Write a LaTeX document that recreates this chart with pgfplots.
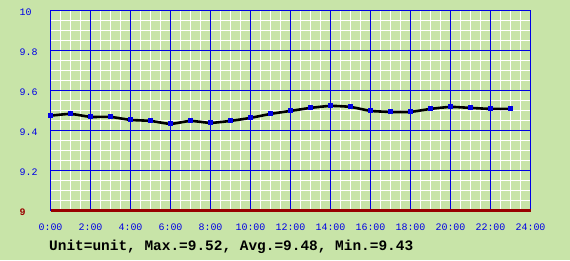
\documentclass[border=0pt]{standalone}
\usepackage{pgfplots}
\pgfplotsset{compat=1.18}
\usepackage{fontspec}
\setmainfont{Liberation Mono}
\definecolor{bg}{RGB}{200,228,168}
\definecolor{gblue}{RGB}{0,0,230}
\definecolor{dred}{RGB}{153,0,0}
\begin{document}
\begin{tikzpicture}[x=1bp,y=1bp]
\fill[bg] (0,0) rectangle (570,260);
\useasboundingbox (0,0) rectangle (570,260);
\begin{axis}[
  at={(50.5bp,49.5bp)}, anchor=south west,
  scale only axis, width=480bp, height=200bp,
  xmin=0, xmax=24, ymin=9, ymax=10,
  clip=false,
  axis line style={gblue, line width=1bp},
  xtick={0,2,...,24},
  xticklabels={0:00,2:00,4:00,6:00,8:00,10:00,12:00,14:00,16:00,18:00,20:00,22:00,24:00},
  ytick={9,9.2,9.4,9.6,9.8,10},
  yticklabels={\textcolor{dred}{\bfseries 9},9.2,9.4,9.6,9.8,10},
  minor x tick num=3, minor y tick num=3,
  grid=minor,
  minor grid style={white, line width=1bp},
  tick style={draw=none},
  /pgf/number format/assume math mode=true,
  xticklabel style={font=\fontsize{10}{12}\selectfont, text=gblue, anchor=center, inner sep=0pt, yshift=-17bp},
  yticklabel style={font=\fontsize{10}{12}\selectfont, text=gblue, anchor=west, inner sep=0pt, xshift=-31bp, yshift=-2bp},
]
\pgfplotsinvokeforeach{2,4,...,22}{\draw[gblue, line width=1bp] (axis cs:#1,9) -- (axis cs:#1,10);}
\pgfplotsinvokeforeach{9.2,9.4,9.6,9.8}{\draw[gblue, line width=1bp] (axis cs:0,#1) -- (axis cs:24,#1);}
\addplot[dred, line width=3bp] coordinates {(0,9) (24,9)};
\addplot[black, line width=2.6bp, smooth, tension=0.3, mark=square*, mark size=2bp,
  mark options={draw=gblue, fill=gblue, line width=0pt}] coordinates {
(0,9.474) (1,9.483) (2,9.468) (3,9.468) (4,9.453) (5,9.448) (6,9.433) (7,9.448)
(8,9.438) (9,9.448) (10,9.463) (11,9.483) (12,9.498) (13,9.513) (14,9.523) (15,9.518)
(16,9.498) (17,9.493) (18,9.493) (19,9.508) (20,9.518) (21,9.513) (22,9.508) (23,9.508)
};
\end{axis}
\node[anchor=west, inner sep=0pt] at (49,13) {\fontsize{14.5}{16}\selectfont\bfseries Unit=unit, Max.=9.52, Avg.=9.48, Min.=9.43};
\end{tikzpicture}
\end{document}
